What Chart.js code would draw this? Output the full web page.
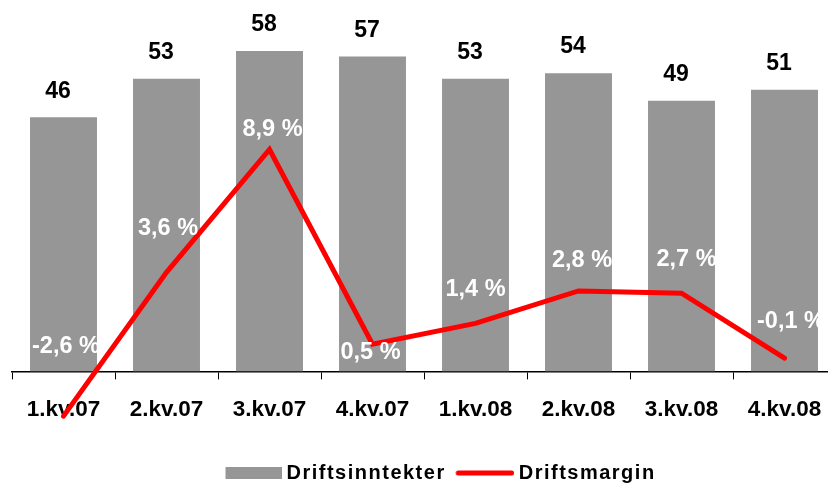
<!DOCTYPE html>
<html><head><meta charset="utf-8">
<script src="https://cdn.jsdelivr.net/npm/chart.js@4"></script>
<style>
html,body{margin:0;padding:0;overflow:hidden;background:#fff;width:828px;height:484px}
canvas{position:absolute;left:0;top:0}
</style></head>
<body><canvas id="c" width="850" height="484"></canvas>
<script>
// ---- data ----
const categories = ['1.kv.07','2.kv.07','3.kv.07','4.kv.07','1.kv.08','2.kv.08','3.kv.08','4.kv.08'];
const driftsinntekter = [46, 53, 58, 57, 53, 54, 49, 51];
const driftsmargin = [-2.6, 3.6, 8.9, 0.5, 1.4, 2.8, 2.7, -0.1];
const seriesNames = ['Driftsinntekter', 'Driftsmargin'];

// ---- styling ----
const FONT = "'Liberation Sans', Arial, sans-serif";
const BAR_COLOR = '#969696';
const LINE_COLOR = '#FF0000';
const fmtPct = v => v.toFixed(1).replace('.', ',') + ' %';
// label placement offsets (px) relative to each line point, as in the original
const pctLabelOffsets = [[2.5,-70],[1.5,-44],[3,-20],[-2,8],[0,-34],[3.5,-30.5],[5,-34],[6.5,-37]];

function makeImg(w, h, draw){ const c=document.createElement('canvas'); c.width=w; c.height=h; draw(c.getContext('2d')); return c; }
const barLegendImg = makeImg(63, 12, g => { g.fillStyle = BAR_COLOR; g.fillRect(7, 0, 56, 12); });
const lineLegendImg = makeImg(64, 6, g => { g.strokeStyle = LINE_COLOR; g.lineWidth = 5; g.lineCap = 'round'; g.beginPath(); g.moveTo(8, 3); g.lineTo(61.5, 3); g.stroke(); });
const legendImgs = [barLegendImg, lineLegendImg];

const LEGEND_PAD = 10;
const LEGEND_FONT = 20;

const legendTweak = {
  id: 'legendTweak',
  beforeLayout(chart){
    const lg = chart.legend;
    if (!lg || lg._spaced) return;
    lg._spaced = true;
    const wrap = name => {
      const orig = lg[name];
      lg[name] = function(){
        const ctx = this.ctx; const prev = ctx.letterSpacing;
        ctx.letterSpacing = '1.5px';
        try { return orig.apply(this, arguments); } finally { ctx.letterSpacing = prev || '0px'; }
      };
    };
    wrap('fit'); wrap('draw');
  },
  afterLayout(chart){
    const lg = chart.legend;
    const x0 = (lg.left + LEGEND_PAD + lg.right - lg.lineWidths[0]) / 2;
    const dx = 223.5 - x0;
    lg.left += dx; lg.right += dx;
    const dy = 473 - (lg.top + LEGEND_PAD + LEGEND_FONT / 2);
    lg.top += dy; lg.bottom += dy;
  }
};

const valueLabels = {
  id: 'valueLabels',
  afterDatasetsDraw(chart){
    const ctx = chart.ctx;
    ctx.save();
    ctx.textAlign = 'center';
    ctx.textBaseline = 'middle';
    ctx.font = 'bold 23px ' + FONT;
    ctx.fillStyle = '#000';
    chart.getDatasetMeta(0).data.forEach((el, i) => {
      ctx.fillText(String(driftsinntekter[i]), el.x - 5.5, el.y - 26);
    });
    ctx.font = 'bold 23.5px ' + FONT;
    ctx.fillStyle = '#fff';
    chart.getDatasetMeta(1).data.forEach((el, i) => {
      const o = pctLabelOffsets[i];
      ctx.fillText(fmtPct(driftsmargin[i]), el.x + o[0], el.y + o[1]);
    });
    ctx.restore();
  }
};

new Chart(document.getElementById('c'), {
  data: {
    labels: categories,
    datasets: [
      { type: 'bar', label: seriesNames[0], data: driftsinntekter, backgroundColor: BAR_COLOR,
        barPercentage: 0.65, categoryPercentage: 1, yAxisID: 'y', order: 2 },
      { type: 'line', label: seriesNames[1], data: driftsmargin, borderColor: LINE_COLOR, backgroundColor: LINE_COLOR,
        borderWidth: 5, pointRadius: 0, tension: 0, clip: false, borderCapStyle: 'round', borderJoinStyle: 'miter',
        yAxisID: 'y1', order: 1 }
    ]
  },
  options: {
    responsive: false,
    animation: false,
    devicePixelRatio: 1,
    layout: { padding: { top: 40, left: 12, right: 14, bottom: 3.6 } },
    scales: {
      x: {
        offset: true,
        grid: { offset: true, drawOnChartArea: false, drawTicks: true, tickLength: 8, color: '#000', lineWidth: 1 },
        border: { display: true, color: '#000', width: 1.5 },
        ticks: { color: '#000', font: { family: FONT, size: 22.5, weight: 'bold' }, padding: 17, maxRotation: 0, autoSkip: false }
      },
      y: { display: false, min: 0, max: 60 },
      y1: { display: false, min: -0.67, max: 13.62 }
    },
    plugins: {
      tooltip: { enabled: false },
      legend: {
        position: 'bottom',
        labels: {
          usePointStyle: true,
          pointStyleWidth: 53,
          padding: LEGEND_PAD,
          color: '#000',
          font: { family: FONT, size: LEGEND_FONT, weight: 'bold' },
          generateLabels: chart => chart.data.datasets.map((ds, i) => ({
            text: ds.label, pointStyle: legendImgs[i], datasetIndex: i, hidden: false,
            fillStyle: 'rgba(0,0,0,0)', strokeStyle: 'rgba(0,0,0,0)', lineWidth: 0, fontColor: '#000'
          }))
        }
      }
    }
  },
  plugins: [legendTweak, valueLabels]
});
</script>
</body></html>
